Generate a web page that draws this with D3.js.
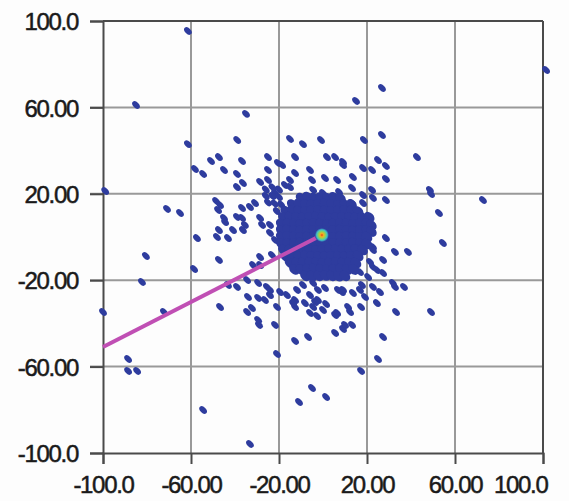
<!DOCTYPE html>
<html lang="en">
<head>
    <meta charset="UTF-8">
    <title>scatter</title>
    <script src="https://d3js.org/d3.v7.min.js"></script>
    <style type="text/css">
    body{
        margin:0;
        background:#fdfdfd;
    }
    text{
        font-family:"Liberation Sans", Arial, sans-serif;
    }
    </style>
</head>
<body>
    <div id="chart"></div>
    <script>
        // tick values and their labels
        var xTicks=[-100,-60,-20,20,60,100];
        var xTickLabels=["-100.0","-60.00","-20.00","20.00","60.00","100.0"];
        var yTicks=[100,60,20,-20,-60,-100];
        var yTickLabels=["100.0","60.00","20.00","-20.00","-60.00","-100.0"];

        // sparse points far from centre
        var outerPoints=[[-61.4,95.4],[-85,61.1],[-35,57],[-39,44.9],[-61.4,43],[26.8,69],[15,63],[-15,45.4],
            [-9.1,43],[-0.9,44.9],[18.6,44.9],[26.8,47.2],[101.4,77.3],[-99,21.3],[42.7,37],[48.6,21.8],
            [49.1,19.9],[52.7,11.1],[72.7,17.1],[54.5,-2.8],[36.8,-23.1],[-70.9,13],[-65,11.1],[-80.5,-8.8],
            [-82.3,-20.8],[-100,-34.7],[-72.3,-34.7],[-58.2,31.5],[-54.5,29.2],[-50.9,35.2],[-47.3,37],[-45,31],
            [-39.1,29.2],[-39.1,23.1],[-48.6,16.7],[-46.8,14.8],[-45,8.8],[-44.5,6.9],[-39.1,9.3],[-47.3,3.2],
            [-40.9,3.2],[-43.2,-0.5],[-57.3,-0.5],[-47.3,-10.6],[-58.6,-14.8],[-43.2,-22.2],[-39.1,-23.1],
            [-46.8,-32.4],[-34.5,-34.7],[-29.1,-40.7],[49.1,-34.7],[33.2,-34.7],[27.3,-46.3],[-20.9,-54.2],
            [25,-56.5],[-88.6,-56.5],[-88.6,-62],[-84.5,-62],[17.3,-62],[-5,-69.9],[1.4,-74.1],[-10.9,-76.4],
            [-54.5,-80.1],[-33.2,-95.8],[-6.8,-46.3],[-12.7,-48.1],[5.5,-44.4],[9.1,-42.6],[13.2,-40.7],
            [10,-40.7],[-47.7,12.5],[-48.2,0],[-36.4,3.2]];

        // points around the dense cluster
        var ringPoints=[[32.7,-6.9],[38.6,-6.9],[28.6,-0.5],[28.6,32.9],[28.6,26.9],[28.6,17.1],[27.3,-10.6],
            [27.3,-16.7],[-20.9,-32.4],[-12.7,-32.4],[-4.5,-32.4],[-2.7,-36.6],[1.4,-31],[5.5,-36.1],[11.4,-32.4],
            [17.3,-32.4],[-36.8,35.2],[-25,37],[-20.5,34.3],[-12.7,37],[1.8,37],[5.5,37],[9.1,34.7],[9.1,33.3],
            [18.2,31.9],[22.3,31],[25,35.6],[-25,31],[-25,26.4],[-15,26.4],[-12.7,29.6],[-5.9,31],[-5,26.4],
            [0.9,27.3],[6.4,26.4],[13.6,27.8],[13.2,22.7],[22.3,21.8],[22.7,18.1],[-28.6,25.5],[-36.4,25],
            [-18.6,33.3],[-17.3,24.1],[-15,23.1],[-4.5,21.8],[0,20.4],[-21.8,20.4],[-36.8,13.4],[-33.2,13.9],
            [-36.8,8.8],[-35.5,5.6],[-28.6,8.8],[-27.7,5.6],[-30.9,15.7],[-24.1,5.6],[-24.1,1.9],[-21.8,-1.4],
            [7.3,20.8],[5.9,18.5],[13.2,15.7],[18.2,19.4],[18.2,15.7],[22.7,-4.6],[19.1,-1.4],[22.7,-13.9],
            [31.8,-21.3],[32.7,-23.1],[17.7,-22.2],[22.7,-23.1],[25.9,-25.5],[19.1,-27.8],[24.5,-30.6],
            [12.3,-34.7],[6.4,-35.2],[8.6,-25.5],[13.6,-25.9],[-2.3,-29.2],[-5.9,-35.2],[-16.4,-26.9],
            [-12.7,-29.2],[-8.2,-30.6],[-28.6,-9.3],[-28.6,-13],[-34.5,-19.9],[-29.5,-21.3],[-25.5,-23.1],
            [-24.1,-26.9],[-34.1,-27.8],[-26.4,-29.2],[-32.3,-32.9],[-31.8,-13],[-23.2,-8.3],[-24.1,-24.5],
            [-19.5,-25.5],[-29.5,-28.2],[-13.6,-30.6],[-11.8,-24.5],[-9.1,-22.2],[-3.6,-30.1],[-5.9,-26.9],
            [-4.5,-21.3],[-2.3,-24.5],[0.9,-23.6],[0,-33.8],[-29.5,-38.4],[-21.8,-40.7],[15.9,-7.4],[22.7,-6],
            [21.4,-11.6],[16.8,-16.2],[24.5,-15.3],[20.5,-18.5],[6.8,-24.5],[9.1,-24.5],[16.8,-24.5],
            [-26,22],[-23,23],[-20,22],[-26,19],[-23,19],[-20,18.5],[-25,16],[-22,15.5],[-19,15],[-21,12]];

        // the dense blob in the middle
        var corePoints=[
            [-10,18],[-7,18.5],[-4,18],[-1,18.3],[2,18],[5,18.4],[8,17.8],
            [-14,15],[-11,15.2],[-8,15],[-5,14.8],[-2,15],[1,15.3],[4,15],[7,14.7],[10,15],[13,15.1],
            [-17,12],[-14,12.2],[-11,12],[-8,11.8],[-5,12],[-2,12.2],[1,12],[4,11.8],[7,12],[10,12.3],[13,12],[16,11.8],
            [-18,9],[-15,9.2],[-12,9],[-9,8.8],[-6,9],[-3,9.2],[0,9],[3,8.8],[6,9],[9,9.1],[12,9],[15,8.8],[18,9],[21,9.2],
            [-19,6],[-16,6.1],[-13,6],[-10,5.8],[-7,6],[-4,6.2],[-1,6],[2,5.8],[5,6],[8,6.1],[11,6],[14,5.9],[17,6],[20,6.2],[22,5.5],
            [-19,3],[-16,3.2],[-13,3],[-10,2.8],[-7,3],[-4,3.1],[-1,3],[2,2.9],[5,3],[8,3.2],[11,3],[14,2.8],[17,3],[20,3.1],[22,2.5],
            [-19,0],[-16,0.2],[-13,0],[-10,-0.2],[-7,0],[-4,0.1],[2,0],[5,-0.2],[8,0],[11,0.2],[14,0],[17,-0.1],[20,0],
            [-19,-3],[-16,-3.1],[-13,-3],[-10,-2.8],[-7,-3],[-4,-3.2],[-1,-3],[2,-2.9],[5,-3],[8,-3.1],[11,-3],[14,-2.8],[17,-3],[20,-3.2],
            [-18,-6],[-15,-6.1],[-12,-6],[-9,-5.8],[-6,-6],[-3,-6.2],[0,-6],[3,-5.9],[6,-6],[9,-6.1],[12,-6],[15,-5.8],[18,-6],
            [-17,-9],[-14,-9.2],[-11,-9],[-8,-8.8],[-5,-9],[-2,-9.1],[1,-9],[4,-8.9],[7,-9],[10,-9.2],[13,-9],[16,-8.8],
            [-15,-12],[-12,-12.1],[-9,-12],[-6,-11.8],[-3,-12],[0,-12.2],[3,-12],[6,-11.9],[9,-12],[12,-12.1],[15,-12],
            [-13,-15],[-10,-15.1],[-7,-15],[-4,-14.8],[-1,-15],[2,-15.2],[5,-15],[8,-14.9],[11,-15],[14,-15.1],
            [-8,-18],[-5,-18.1],[-2,-18],[1,-17.8],[4,-18],[7,-18.2],[10,-18]];

        // hot spot and the magenta track
        var hotSpot=[[-0.5,0.9]];
        var trackLine=[[-100,-50.9],[-1.4,0.5]];

        var width=569,height=501;
        var svg=d3.select('#chart')
            .append('svg')
            .attr('width',width)
            .attr('height',height);

        var scale_x=d3.scaleLinear()
                    .domain([-100,100])
                    .range([103,543]);
        var scale_y=d3.scaleLinear()
                    .domain([-100,100])
                    .range([453,21]);

        //网格
        var grid=svg.append('g');
        grid.selectAll('.vx')
            .data(xTicks.slice(1,-1))
            .enter().append('line')
            .attr('x1',d=>scale_x(d)).attr('x2',d=>scale_x(d))
            .attr('y1',scale_y(100)).attr('y2',scale_y(-100))
            .attr('stroke','#999').attr('stroke-width',2);
        grid.selectAll('.hy')
            .data(yTicks.slice(1,-1))
            .enter().append('line')
            .attr('x1',scale_x(-100)-13).attr('x2',scale_x(100))
            .attr('y1',d=>scale_y(d)).attr('y2',d=>scale_y(d))
            .attr('stroke','#999').attr('stroke-width',2);

        //坐标轴
        var x_axis=d3.axisBottom(scale_x).tickValues(xTicks).tickSize(11).tickFormat((d,i)=>xTickLabels[i]).tickPadding(12);
        var y_axis=d3.axisLeft(scale_y).tickValues(yTicks).tickSize(13).tickFormat((d,i)=>yTickLabels[i]).tickPadding(12);

        var gx=svg.append('g').attr('transform','translate(0,'+scale_y(-100)+')').call(x_axis);
        var gy=svg.append('g').attr('transform','translate('+scale_x(-100)+',0)').call(y_axis);
        [gx,gy].forEach(function(g){
            g.select('.domain').attr('stroke','#4a4a4a').attr('stroke-width',2);
            g.selectAll('.tick line').attr('stroke','#4a4a4a').attr('stroke-width',2);
            g.selectAll('.tick text')
                .attr('fill','#1a1a1a')
                .attr('stroke','#1a1a1a')
                .attr('stroke-width',0.5)
                .style('font-size','24px')
                .style('letter-spacing','-1.3px');
        });
        gx.selectAll('.tick text').attr('dy','0.71em');
        // last label would run off the page, keep it inside
        gx.selectAll('.tick text').filter((d,i)=>i==xTicks.length-1)
            .attr('text-anchor','end').attr('x',4);
        gy.selectAll('.tick text').attr('dy','0.36em');

        // top and right frame lines
        svg.append('line')
            .attr('x1',scale_x(-100)).attr('x2',scale_x(100))
            .attr('y1',scale_y(100)).attr('y2',scale_y(100))
            .attr('stroke','#4a4a4a').attr('stroke-width',2);
        svg.append('line')
            .attr('x1',scale_x(100)).attr('x2',scale_x(100))
            .attr('y1',scale_y(100)).attr('y2',scale_y(-100))
            .attr('stroke','#4a4a4a').attr('stroke-width',2);

        //散点
        var dots=svg.append('g');
        function drawDots(data,rx,ry){
            dots.append('g').selectAll('ellipse')
                .data(data)
                .enter().append('ellipse')
                .attr('transform',d=>'translate('+scale_x(d[0])+','+scale_y(d[1])+') rotate(45)')
                .attr('rx',rx)
                .attr('ry',ry)
                .attr('fill','#2e3c9e');
        }
        drawDots(outerPoints,4.5,2.9);
        drawDots(ringPoints,4.5,2.9);
        drawDots(corePoints,6,4.5);

        // track line
        svg.append('line')
            .attr('x1',scale_x(trackLine[0][0])).attr('y1',scale_y(trackLine[0][1]))
            .attr('x2',scale_x(trackLine[1][0])).attr('y2',scale_y(trackLine[1][1]))
            .attr('stroke','#c04fb4').attr('stroke-width',4);

        // hot spot
        var grad=svg.append('defs').append('radialGradient').attr('id','heat');
        var stops=[[0,'#e5451c'],[0.25,'#f2b322'],[0.5,'#8cd45a'],[0.75,'#3fc2c8'],[1,'#2e3c9e']];
        grad.selectAll('stop').data(stops).enter().append('stop')
            .attr('offset',d=>d[0]).attr('stop-color',d=>d[1]);
        svg.selectAll('.hot')
            .data(hotSpot)
            .enter().append('circle')
            .attr('cx',d=>scale_x(d[0]))
            .attr('cy',d=>scale_y(d[1]))
            .attr('r',7)
            .attr('fill','url(#heat)');
    </script>
</body>
</html>
